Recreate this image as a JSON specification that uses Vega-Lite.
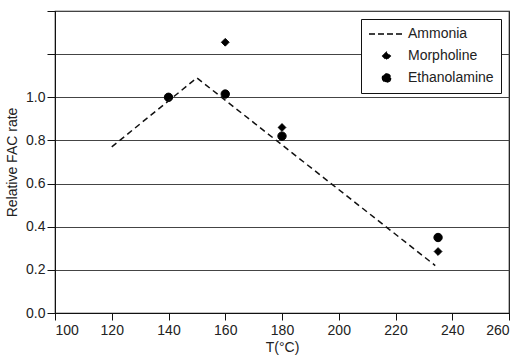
{
  "$schema": "https://vega.github.io/schema/vega-lite/v6.json",
  "width": 454,
  "height": 302,
  "autosize": "none",
  "padding": {"left": 55, "top": 11, "right": 15, "bottom": 45},
  "background": "white",
  "config": {
    "view": {"stroke": "#111", "strokeWidth": 1.2},
    "font": "Liberation Sans",
    "axis": {"labelFont": "Liberation Sans", "titleFont": "Liberation Sans", "labelColor": "#222", "titleColor": "#222", "domainColor": "#111", "tickColor": "#111", "labelFontSize": 14, "titleFontSize": 14, "titleFontWeight": "normal"}
  },
  "data": {"values": [
    {"series": "Ammonia", "T": 120, "rate": 0.77},
    {"series": "Ammonia", "T": 150, "rate": 1.09},
    {"series": "Ammonia", "T": 234, "rate": 0.22},
    {"series": "Morpholine", "T": 160, "rate": 1.255},
    {"series": "Morpholine", "T": 180, "rate": 0.86},
    {"series": "Morpholine", "T": 235, "rate": 0.285},
    {"series": "Ethanolamine", "T": 140, "rate": 1.0},
    {"series": "Ethanolamine", "T": 160, "rate": 1.015},
    {"series": "Ethanolamine", "T": 180, "rate": 0.82},
    {"series": "Ethanolamine", "T": 235, "rate": 0.35}
  ]},
  "encoding": {
    "x": {"field": "T", "type": "quantitative", "scale": {"domain": [100, 260], "nice": false}, "axis": {"values": [100, 120, 140, 160, 180, 200, 220, 240, 260], "title": "T(°C)", "tickSize": 7, "grid": false, "labelPadding": 3, "titlePadding": 3}},
    "y": {"field": "rate", "type": "quantitative", "scale": {"domain": [0, 1.4], "nice": false}, "axis": {"values": [0, 0.2, 0.4, 0.6, 0.8, 1.0, 1.2, 1.4], "labelExpr": "datum.value > 1.05 ? '' : format(datum.value, '.1f')", "title": "Relative FAC rate", "tickSize": 8, "grid": true, "gridColor": "#444", "gridOpacity": 1, "gridWidth": 1.2, "labelPadding": 2, "titlePadding": 6}}
  },
  "layer": [
    {
      "transform": [{"filter": "datum.series !== 'Ammonia'"}],
      "mark": {"type": "point", "filled": true, "fill": "#000", "stroke": "#000", "strokeWidth": 1, "opacity": 1},
      "encoding": {
        "shape": {"field": "series", "type": "nominal",
          "scale": {"domain": ["Ammonia", "Morpholine", "Ethanolamine"], "range": ["stroke", "diamond", "circle"]},
          "legend": {
            "title": null, "orient": "top-right", "offset": 8,
            "strokeColor": "#111", "fillColor": "white", "padding": 7,
            "labelFont": "Liberation Sans", "labelFontSize": 14, "labelColor": "#222",
            "symbolFillColor": "#000", "symbolStrokeColor": "#000", "symbolStrokeWidth": 1.3, "symbolDash": [6, 3],
            "labelOffset": 3, "rowPadding": 6, "clipHeight": 16
          }
        },
        "size": {"field": "series", "type": "nominal",
          "scale": {"type": "ordinal", "domain": ["Ammonia", "Morpholine", "Ethanolamine"], "range": [1225, 60, 70]}}
      }
    },
    {
      "transform": [{"filter": "datum.series === 'Ammonia'"}],
      "mark": {"type": "line", "color": "#111", "strokeWidth": 1.5, "strokeDash": [6, 4]},
      "encoding": {}
    }
  ]
}
